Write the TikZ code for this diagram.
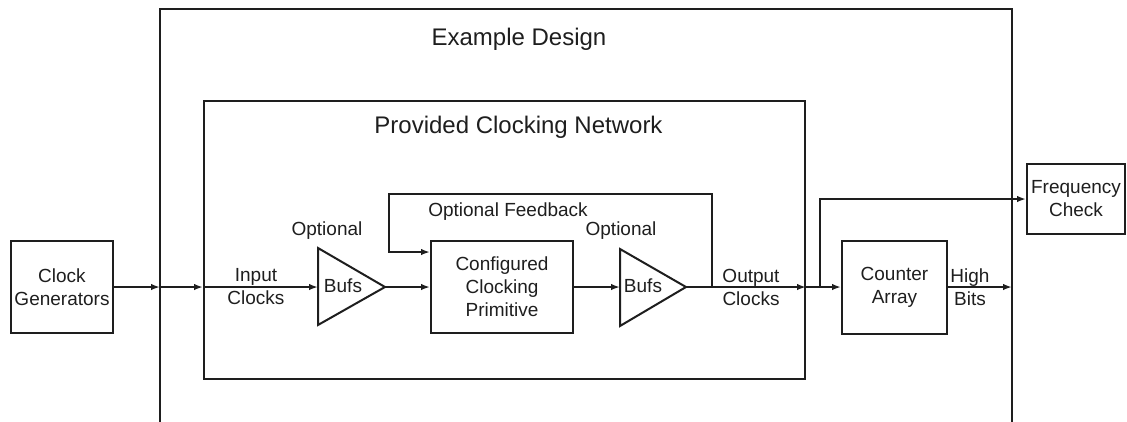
\documentclass[tikz,border=0pt]{standalone}
\usepackage{fontspec}
\setmainfont{Liberation Sans}
\usetikzlibrary{arrows.meta}
\definecolor{ink}{HTML}{1E1E1E}
\newcommand\lblfont{\fontsize{19}{23}\selectfont}
\newcommand\ttlfont{\fontsize{24}{28}\selectfont}
\tikzset{
  wire/.style={draw=ink, line width=1.8pt},
  flow/.style={wire, -{Latex[length=9pt,width=6.5pt]}},
  frame/.style={draw=ink, line width=2pt},
  block/.style={frame, inner sep=0pt, align=center, font=\lblfont, text=ink},
  lbl/.style={inner sep=0pt, align=center, font=\lblfont, text=ink},
  title/.style={inner sep=0pt, anchor=base, font=\ttlfont, text=ink},
}
\begin{document}
\begin{tikzpicture}[x=1pt, y=-1pt]
  \useasboundingbox (0,0) rectangle (1127,421);

  % outer "Example Design" frame, open at the bottom
  \draw[frame] (160,430) |- (1012,9) -- (1012,430);
  \node[title] (ed) at (519,45) {Example Design};

  % provided clocking network
  \node[block, minimum width=601pt, minimum height=278pt] (pcn) at (504.5,240) {};
  \node[title] (pcnt) at (518.5,133) {Provided Clocking Network};

  % blocks
  \node[block, minimum width=102pt, minimum height=92pt] (gen) at (62,287) {Clock\\Generators};
  \node[block, minimum width=142pt, minimum height=92pt] (conf) at (502,287) {Configured\\Clocking\\Primitive};
  \node[block, minimum width=105pt, minimum height=93pt] (cnt) at (894.5,287) {Counter\\Array};
  \node[block, minimum width=98pt, minimum height=70pt] (freq) at (1076,199) {Frequency\\Check};

  % buffers
  \coordinate (b1w) at (318,287);
  \coordinate (b1e) at (385,287);
  \draw[frame, line join=miter] (318,248) -- (b1e) -- (318,325) -- cycle;
  \node[lbl] (b1) at (343,286) {Bufs};
  \node[lbl, anchor=base] (b1o) at (327,235) {Optional};

  \coordinate (b2w) at (620,287);
  \coordinate (b2e) at (686,287);
  \draw[frame, line join=miter] (620,249) -- (b2e) -- (620,326) -- cycle;
  \node[lbl] (b2) at (643,286) {Bufs};
  \node[lbl, anchor=base] (b2o) at (621,235) {Optional};

  % crossing points on the frames
  \coordinate (edin) at (160,287);
  \coordinate (pcnin) at (pcn.west |- gen.east);
  \coordinate (pcnout) at (pcn.east |- gen.east);
  \coordinate (edout) at (1012,287);
  \coordinate (fbtap) at (712,287);
  \coordinate (fctap) at (820,287);

  % main clock path
  \draw[flow] (gen.east) -- (edin);
  \draw[flow] (edin) -- (pcnin);
  \draw[flow] (pcnin) -- (b1w);
  \draw[flow] (b1e) -- (conf.west);
  \draw[flow] (conf.east) -- (b2w);
  \draw[flow] (b2e) -- (pcnout);
  \draw[flow] (pcnout) -- (cnt.west);
  \draw[flow] (cnt.east) -- (edout);

  % feedback loop
  \draw[flow] (fbtap) -- (712,194) -- (389,194) -- (389,252) -- (conf.west |- 0,252);
  \node[lbl, anchor=base] (fbl) at (508,216) {Optional Feedback};

  % branch to the frequency check
  \draw[flow] (fctap) -- (fctap |- freq.west) -- (freq.west);

  % signal labels
  \node[lbl] (inl) at (256,287) {Input\\Clocks};
  \node[lbl] (outl) at (751,287) {Output\\Clocks};
  \node[lbl] (hbl) at (970,287) {High\\Bits};
\end{tikzpicture}
\end{document}
